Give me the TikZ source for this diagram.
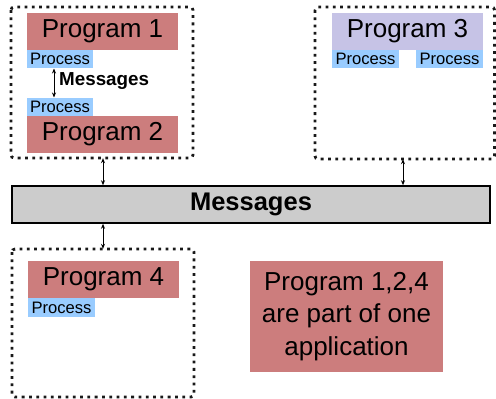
\documentclass[tikz,border=0pt]{standalone}
\usepackage{fontspec}
\setmainfont{Liberation Sans}
\usetikzlibrary{arrows.meta}
\definecolor{progred}{HTML}{CC7D7D}
\definecolor{proglav}{HTML}{C6C3E6}
\definecolor{procblue}{HTML}{99CCFF}
\definecolor{bargray}{HTML}{CCCCCC}
\tikzset{
  grp/.style={draw=black!90, line width=2.8pt, dash pattern=on 2.8pt off 4.5pt, rounded corners=3pt},
  prog/.style={fill=progred, inner sep=0pt, font=\fontsize{26}{31}\selectfont},
  proc/.style={fill=procblue, inner sep=0pt, font=\fontsize{16.6}{19}\selectfont},
  link/.style={{Stealth[length=5pt,width=4pt]}-{Stealth[length=5pt,width=4pt]}, line width=0.9pt},
}
\begin{document}
\begin{tikzpicture}[x=1pt,y=-1pt]
\useasboundingbox (0,0) rectangle (496,399);
% group boxes
\draw[grp] (11,7) rectangle (193,158);
\node[inner sep=0pt, minimum width=182pt, minimum height=151pt] (g1) at (102,82.5) {};
\draw[grp] (315,7) rectangle (494.5,159);
\node[inner sep=0pt, minimum width=179.5pt, minimum height=152pt] (g3) at (404.75,83) {};
\draw[grp] (12,249) rectangle (194,397);
\node[inner sep=0pt, minimum width=182pt, minimum height=148pt] (g4) at (103,323) {};
% program 1/2
\node[prog, minimum width=151pt, minimum height=37pt] (p1) at (102.5,31.5) {Program 1};
\node[proc, minimum width=66pt, minimum height=18pt] (pr1) at (60,59) {Process};
\node[proc, minimum width=66pt, minimum height=18pt] (pr2) at (60,107) {Process};
\node[prog, minimum width=151pt, minimum height=37pt] (p2) at (102.5,134.5) {Program 2};
\coordinate (a1) at (54,68.5);
\coordinate (a2) at (54,97.5);
\draw[link] (a1) -- (a2);
\node[anchor=west, inner sep=0pt, font=\bfseries\fontsize{18.8}{22}\selectfont] (m1) at (59,81) {Messages};
% program 3
\node[fill=proglav, inner sep=0pt, minimum width=151pt, minimum height=37pt, font=\fontsize{26}{31}\selectfont] (p3) at (407.5,31.5) {Program 3};
\node[proc, minimum width=67pt, minimum height=18pt] (pr3a) at (365.5,59) {Process};
\node[proc, minimum width=67pt, minimum height=18pt] (pr3b) at (449.5,59) {Process};
% messages bar
\node[draw=black, fill=bargray, line width=1.5pt, minimum width=478pt, minimum height=37pt, inner sep=0pt, font=\bfseries\fontsize{25.5}{30}\selectfont] (bar) at (251,204.5) {Messages};
% program 4
\node[prog, minimum width=151pt, minimum height=37pt] (p4) at (103.5,279.5) {Program 4};
\node[proc, minimum width=67pt, minimum height=19pt] (pr4) at (61.5,307.5) {Process};
% note
\node[fill=progred, inner sep=0pt, minimum width=193pt, minimum height=111pt, align=center, font=\fontsize{26}{32.3}\selectfont] (note) at (346.5,316.5) {Program 1,2,4\\are part of one\\application};
% connectors
\draw[link] (g1.south -| 103,0) -- (bar.north -| 103,0);
\draw[link] (g3.south -| 403,0) -- (bar.north -| 403,0);
\draw[link] (bar.south -| 103,0) -- (g4.north -| 103,0);
\end{tikzpicture}
\end{document}
